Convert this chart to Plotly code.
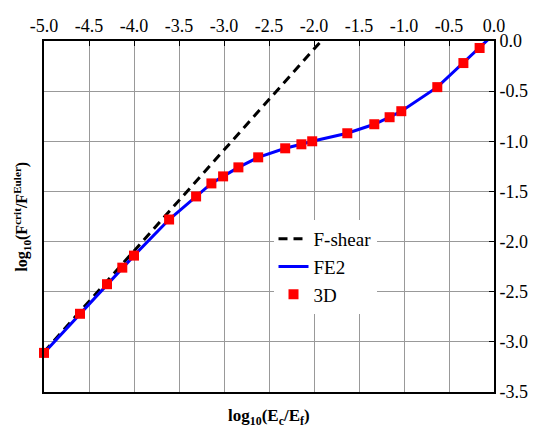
import plotly.graph_objects as go

# 3D simulation points (log10(Ec/Ef), log10(Fcrit/FEuler))
x3d = [-5.0, -4.6, -4.3, -4.13, -4.0, -3.61, -3.31, -3.14, -3.01, -2.84, -2.62,
       -2.32, -2.14, -2.02, -1.63, -1.33, -1.16, -1.03, -0.63, -0.34, -0.16]
y3d = [-3.11, -2.72, -2.425, -2.26, -2.14, -1.78, -1.55, -1.42, -1.35, -1.26, -1.16,
       -1.07, -1.03, -1.0, -0.92, -0.83, -0.76, -0.70, -0.46, -0.22, -0.07]

# FE2 curve
xfe2 = x3d + [0.0]
yfe2 = y3d + [0.07]

# F-shear line
xshear = [-5.0, -1.92]
yshear = [-3.1, 0.0]

xticks = [-5.0, -4.5, -4.0, -3.5, -3.0, -2.5, -2.0, -1.5, -1.0, -0.5, 0.0]
yticks = [0.0, -0.5, -1.0, -1.5, -2.0, -2.5, -3.0, -3.5]

FONT = "Liberation Serif"

fig = go.Figure()
fig.add_trace(go.Scatter(x=xshear, y=yshear, mode="lines", name="F-shear",
                         line=dict(color="black", width=3, dash="9px,6px"),
                         legendgroup="a"))
fig.add_trace(go.Scatter(x=xfe2, y=yfe2, mode="lines", name="FE2",
                         line=dict(color="#0000ff", width=3), legendgroup="b"))
fig.add_trace(go.Scatter(x=x3d, y=y3d, mode="markers", name="3D",
                         marker=dict(symbol="square", size=10, color="#ff0000"),
                         legendgroup="c", cliponaxis=False))

fig.update_layout(
    width=542, height=433,
    margin=dict(l=44, r=48, t=41, b=41),
    paper_bgcolor="white", plot_bgcolor="white",
    font=dict(family=FONT, size=17, color="black"),
    showlegend=True,
    legend=dict(x=0.51, y=0.49, xanchor="left", yanchor="top",
                bgcolor="white", borderwidth=0, traceorder="grouped",
                tracegroupgap=0, itemwidth=30,
                font=dict(family=FONT, size=19, color="black")),
    xaxis=dict(range=[-5.0, 0.0], side="top", tickvals=xticks,
               ticktext=[f"{v:.1f}" for v in xticks],
               tickfont=dict(family=FONT, size=18),
               showgrid=True, gridcolor="#999999", gridwidth=1,
               showline=True, linecolor="black", linewidth=2, mirror=True,
               ticks="inside", ticklen=5, tickcolor="black", tickwidth=1,
               zeroline=False, fixedrange=True),
    yaxis=dict(range=[-3.5, 0.0], side="right", tickvals=yticks,
               ticktext=[f"{v:.1f}" for v in yticks],
               tickfont=dict(family=FONT, size=18),
               showgrid=True, gridcolor="#999999", gridwidth=1,
               showline=True, linecolor="black", linewidth=2, mirror=True,
               ticks="inside", ticklen=5, tickcolor="black", tickwidth=1,
               zeroline=False, fixedrange=True),
)

fig.add_annotation(text="<b>log<sub>10</sub>(E<sub>c</sub>/E<sub>f</sub>)</b>",
                   xref="paper", yref="paper", x=0.5, y=-0.035,
                   xanchor="center", yanchor="top", showarrow=False,
                   font=dict(family=FONT, size=17))
fig.add_annotation(text="<b>log<sub>10</sub>(F<sup>crit</sup>/F<sup>Euler</sup>)</b>",
                   xref="paper", yref="paper", x=-0.022, y=0.5,
                   xanchor="right", yanchor="middle", textangle=-90,
                   showarrow=False, font=dict(family=FONT, size=16))

fig.write_html("out.html")
